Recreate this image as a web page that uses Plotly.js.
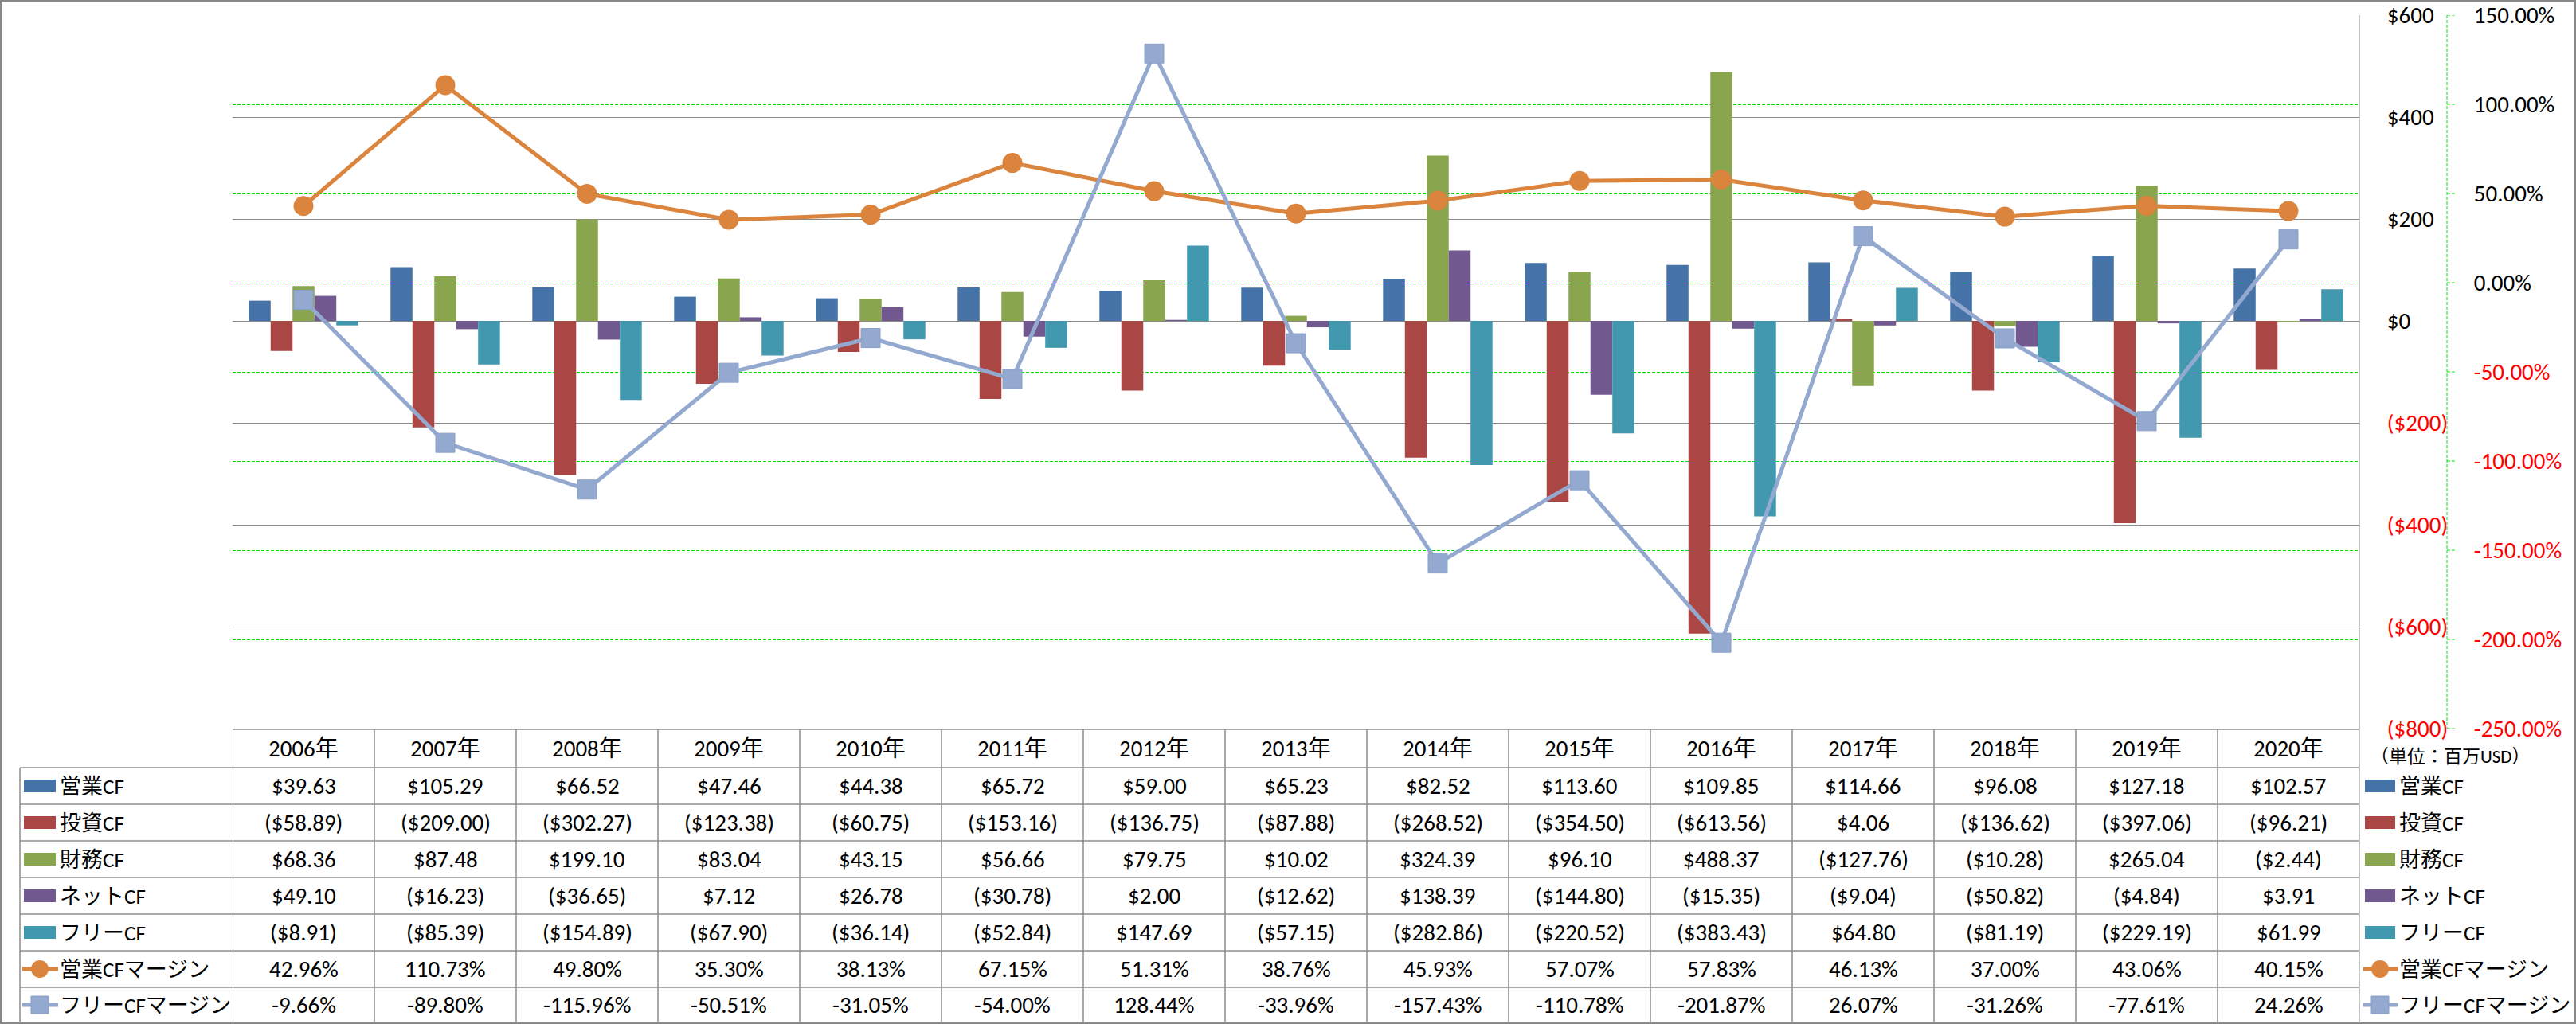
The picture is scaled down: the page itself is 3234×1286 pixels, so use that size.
<!DOCTYPE html>
<html>
<head>
<meta charset="utf-8">
<script src="https://cdn.plot.ly/plotly-3.0.1.min.js"></script>
<style>
html,body{margin:0;padding:0;background:#fff;}
#chart{width:3234px;height:1286px;}
</style>
</head>
<body>
<div id="chart"></div>
<script>
// ---- data ----
const categories = ["2006年","2007年","2008年","2009年","2010年","2011年","2012年","2013年","2014年","2015年","2016年","2017年","2018年","2019年","2020年"];
const seriesNames = ["営業CF","投資CF","財務CF","ネットCF","フリーCF","営業CFマージン","フリーCFマージン"];
const operatingCF = [39.63,105.29,66.52,47.46,44.38,65.72,59.00,65.23,82.52,113.60,109.85,114.66,96.08,127.18,102.57];
const investingCF = [-58.89,-209.00,-302.27,-123.38,-60.75,-153.16,-136.75,-87.88,-268.52,-354.50,-613.56,4.06,-136.62,-397.06,-96.21];
const financingCF = [68.36,87.48,199.10,83.04,43.15,56.66,79.75,10.02,324.39,96.10,488.37,-127.76,-10.28,265.04,-2.44];
const netCF = [49.10,-16.23,-36.65,7.12,26.78,-30.78,2.00,-12.62,138.39,-144.80,-15.35,-9.04,-50.82,-4.84,3.91];
const freeCF = [-8.91,-85.39,-154.89,-67.90,-36.14,-52.84,147.69,-57.15,-282.86,-220.52,-383.43,64.80,-81.19,-229.19,61.99];
const operatingMargin = [42.96,110.73,49.80,35.30,38.13,67.15,51.31,38.76,45.93,57.07,57.83,46.13,37.00,43.06,40.15];
const freeMargin = [-9.66,-89.80,-115.96,-50.51,-31.05,-54.00,128.44,-33.96,-157.43,-110.78,-201.87,26.07,-31.26,-77.61,24.26];
const moneyTicks = [600,400,200,0,-200,-400,-600,-800];
const pctTicks = [150,100,50,0,-50,-100,-150,-200,-250];
const unitLabel = "（単位：百万USD）";

// ---- styles ----
const colors = ["#4572A7","#AA4643","#89A54E","#71588F","#4198AF","#DB843D","#93A9CF"];
const FONT = "Carlito, 'Liberation Sans', 'Noto Sans CJK JP', sans-serif";
const FS = 29;
const LFS = 27;
const W=3234, H=1286, L=292, R=100, T=19, B=371;
const PW=W-L-R, PH=H-T-B;
const xp = px => (px-L)/PW;
const yp = py => (H-B-py)/PH;
const plotRight = 2962;
const y2AxisX = 3072;
const rowEdges = [916,964,1010,1056,1102,1148,1194,1240,1284];
const GREEN = '#00e600';

const fmtMoney = v => v<0 ? "($"+Math.abs(v).toFixed(2)+")" : "$"+v.toFixed(2);
const fmtPct = v => v.toFixed(2)+"%";
const red = s => '<span style="color:#ff0000">'+s+'</span>';

const barSeries = [operatingCF, investingCF, financingCF, netCF, freeCF];
const traces = barSeries.map((vals,i)=>({
  type:'bar', x:categories, y:vals, name:seriesNames[i],
  marker:{color:colors[i]}, yaxis:'y', showlegend:false, hoverinfo:'skip'
}));
traces.push({type:'scatter', mode:'lines+markers', x:categories, y:operatingMargin, name:seriesNames[5],
  yaxis:'y2', line:{color:colors[5], width:5}, marker:{symbol:'circle', size:25, color:colors[5]}, showlegend:false, hoverinfo:'skip'});
traces.push({type:'scatter', mode:'lines+markers', x:categories, y:freeMargin, name:seriesNames[6],
  yaxis:'y2', line:{color:colors[6], width:5}, marker:{symbol:'square', size:24, color:colors[6], line:{color:'#8aa0c8', width:1}}, showlegend:false, hoverinfo:'skip'});

const shapes = [];
const annotations = [];
const gray = '#8c8c8c';

// outer border
shapes.push({type:'rect', xref:'paper', yref:'paper', x0:xp(1), x1:xp(W-1), y0:yp(1), y1:yp(H-1), line:{color:'#888', width:2}, layer:'above'});
// plot right border
shapes.push({type:'line', xref:'paper', yref:'paper', x0:xp(plotRight), x1:xp(plotRight), y0:yp(19), y1:yp(1284), line:{color:gray, width:1}});
// secondary axis dashed line + its tick marks
shapes.push({type:'line', xref:'paper', yref:'paper', x0:xp(y2AxisX), x1:xp(y2AxisX), y0:yp(19), y1:yp(915), line:{color:GREEN, width:1, dash:'4px,2px'}});
pctTicks.forEach(v=>{
  shapes.push({type:'line', xref:'paper', yref:'y2', x0:xp(y2AxisX), x1:xp(y2AxisX+10), y0:v, y1:v, line:{color:GREEN, width:1, dash:'4px,2px'}});
});
// table horizontal lines
rowEdges.forEach((py,i)=>{
  const x0 = i===0 ? L : 25;
  shapes.push({type:'line', xref:'paper', yref:'paper', x0:xp(x0), x1:xp(plotRight), y0:yp(py), y1:yp(py), line:{color:gray, width:1.5}});
});
// table vertical lines
shapes.push({type:'line', xref:'paper', yref:'paper', x0:xp(25), x1:xp(25), y0:yp(964), y1:yp(1284), line:{color:gray, width:1.5}});
for(let k=0;k<=categories.length;k++){
  shapes.push({type:'line', xref:'x', yref:'paper', x0:k-0.5, x1:k-0.5, y0:yp(916), y1:yp(1284), line:{color:gray, width:1.5}});
}

// header
categories.forEach((c,i)=>{
  annotations.push({xref:'x', yref:'paper', x:i, y:yp((rowEdges[0]+rowEdges[1])/2), text:c, showarrow:false, font:{family:FONT, size:FS, color:'#000'}, xanchor:'center', yanchor:'middle'});
});
const tableRows = [
  operatingCF.map(fmtMoney), investingCF.map(fmtMoney), financingCF.map(fmtMoney),
  netCF.map(fmtMoney), freeCF.map(fmtMoney), operatingMargin.map(fmtPct), freeMargin.map(fmtPct)
];
tableRows.forEach((row,r)=>{
  const cy = (rowEdges[r+1]+rowEdges[r+2])/2;
  row.forEach((t,i)=>{
    annotations.push({xref:'x', yref:'paper', x:i, y:yp(cy), text:t, showarrow:false, font:{family:FONT, size:FS, color:'#000'}, xanchor:'center', yanchor:'middle'});
  });
});

// legend keys (left in table and right side)
function legendKey(r, swX0, swX1, textX){
  const cy = (rowEdges[r+1]+rowEdges[r+2])/2;
  if(r<5){
    shapes.push({type:'rect', xref:'paper', yref:'paper', x0:xp(swX0), x1:xp(swX1), y0:yp(cy-8), y1:yp(cy+8), fillcolor:colors[r], line:{width:0}});
  } else {
    const mid = (swX0+swX1)/2;
    shapes.push({type:'line', xref:'paper', yref:'paper', x0:xp(swX0-2), x1:xp(swX1+3), y0:yp(cy), y1:yp(cy), line:{color:colors[r], width:5}});
    if(r===5){
      shapes.push({type:'circle', xref:'paper', yref:'paper', x0:xp(mid-11), x1:xp(mid+11), y0:yp(cy-11), y1:yp(cy+11), fillcolor:colors[r], line:{width:0}});
    } else {
      shapes.push({type:'rect', xref:'paper', yref:'paper', x0:xp(mid-11), x1:xp(mid+11), y0:yp(cy-11), y1:yp(cy+11), fillcolor:colors[r], line:{color:'#8aa0c8', width:1}});
    }
  }
  annotations.push({xref:'paper', yref:'paper', x:xp(textX), y:yp(cy), text:seriesNames[r], showarrow:false, xanchor:'left', yanchor:'middle', font:{family:FONT, size:LFS, color:'#000'}});
}
for(let r=0;r<7;r++){
  legendKey(r, 30, 70, 73);
  legendKey(r, 2969, 3007, 3010);
}
annotations.push({xref:'paper', yref:'paper', x:xp(3076), y:yp(950), text:unitLabel, showarrow:false, xanchor:'center', yanchor:'middle', font:{family:FONT, size:23, color:'#000'}});

const layout = {
  width:W, height:H,
  margin:{l:L, r:R, t:T, b:B, pad:0},
  paper_bgcolor:'#fff', plot_bgcolor:'#fff',
  showlegend:false,
  barmode:'group', bargap:0.228, bargroupgap:0,
  font:{family:FONT, size:FS, color:'#000'},
  xaxis:{type:'category', categoryorder:'array', categoryarray:categories, range:[-0.5, categories.length-0.5],
    domain:[0,(plotRight-L)/PW], autorange:false,
    showticklabels:false, showgrid:false, zeroline:false, showline:false, ticks:'', fixedrange:true},
  yaxis:{range:[-800,600], autorange:false, side:'right', anchor:'x', tickvals:moneyTicks,
    ticktext:moneyTicks.map(v=> v<0 ? red("($"+Math.abs(v)+")") : "$"+v),
    showgrid:true, gridcolor:'#8a8a8a', gridwidth:1, zeroline:false, showline:false,
    ticks:'outside', ticklen:28, tickcolor:'rgba(0,0,0,0)',
    tickfont:{family:FONT, size:FS, color:'#000'}},
  yaxis2:{range:[-250,150], autorange:false, overlaying:'y', side:'right', anchor:'free', position:xp(y2AxisX),
    tickvals:pctTicks, ticktext:pctTicks.map(v=> v<0 ? red(v.toFixed(2)+"%") : v.toFixed(2)+"%"),
    showgrid:true, gridcolor:GREEN, gridwidth:1, griddash:'4px,2px', zeroline:false, showline:false,
    ticks:'outside', ticklen:27, tickcolor:'rgba(0,0,0,0)',
    tickfont:{family:FONT, size:FS, color:'#000'}},
  shapes:shapes,
  annotations:annotations
};
Plotly.newPlot('chart', traces, layout, {staticPlot:true, displayModeBar:false});
</script>
</body>
</html>
